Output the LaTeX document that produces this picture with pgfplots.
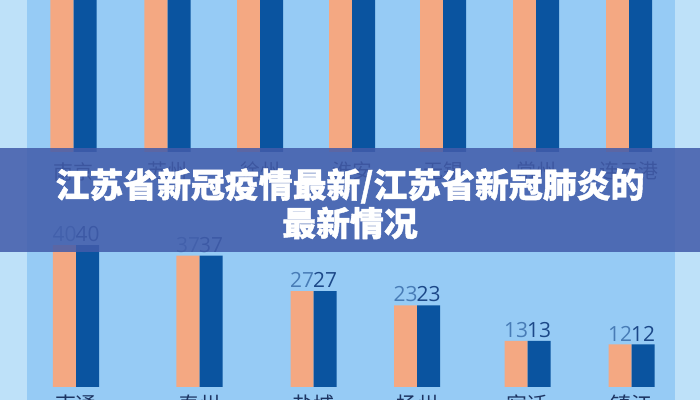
\documentclass[border=0pt]{standalone}
\usepackage{pgfplots}
\pgfplotsset{compat=1.18}
\usepackage{fontspec}
\newfontfamily\cjk{Noto Sans CJK SC}[BoldFeatures={FakeBold=1.2}]
\newfontfamily\numfont{Open Sans}
\definecolor{bgout}{RGB}{190,225,249}
\definecolor{bgin}{RGB}{150,203,245}
\definecolor{barorange}{RGB}{244,168,130}
\definecolor{barblue}{RGB}{10,84,160}
\definecolor{lblorange}{RGB}{72,124,182}
\definecolor{lblblue}{RGB}{28,72,136}
\definecolor{catlbl}{RGB}{28,52,98}
\definecolor{banner}{RGB}{66,92,170}

\begin{document}
\begin{tikzpicture}
\useasboundingbox (0bp,0bp) rectangle (700bp,400bp);
\clip (0bp,0bp) rectangle (700bp,400bp);
\fill[bgout] (0bp,0bp) rectangle (700bp,400bp);
\fill[bgin] (27bp,0bp) rectangle (675bp,400bp);

% upper chart (cut off by the frame and the banner)
\begin{axis}[
  at={(0bp,248bp)}, anchor=south west,
  scale only axis, width=700bp, height=160bp,
  xmin=0, xmax=700, ymin=0, ymax=45,
  axis line style={draw=none}, major tick length=0pt,
  ytick=\empty,
  xtick={73.5,167.5,260,352,443,536,629},
  xticklabels={南京,苏州,徐州,淮安,无锡,常州,连云港},
  xticklabel style={font=\cjk\fontsize{20}{20}\selectfont, text=catlbl, inner sep=0pt, anchor=north, yshift=-10bp},
  ybar=0pt, bar width=23bp,
]
\addplot[fill=barorange, draw=none] coordinates {(73.5,93) (167.5,80) (260,79) (352,66) (443,61) (536,48) (629,46)};
\addplot[fill=barblue, draw=none] coordinates {(73.5,93) (167.5,80) (260,79) (352,66) (443,61) (536,48) (629,46)};
\end{axis}

% lower chart
\begin{axis}[
  at={(0bp,13bp)}, anchor=south west,
  scale only axis, width=700bp, height=142bp,
  xmin=0, xmax=700, ymin=0, ymax=40, clip=false,
  axis line style={draw=none}, major tick length=0pt,
  ytick=\empty,
  xtick={76,199.5,313.5,417,527.5,631.5},
  xticklabels={南通,泰州,盐城,扬州,宿迁,镇江},
  xticklabel style={font=\cjk\fontsize{21}{21}\selectfont, text=catlbl, inner sep=0pt, anchor=north, yshift=-8bp},
  ybar=0pt, bar width=23bp,
  nodes near coords,
  /pgf/number format/assume math mode=true,
  every node near coord/.append style={font=\numfont\fontsize{21}{21}\selectfont, inner sep=0pt, anchor=south, yshift=3bp},
]
\addplot[fill=barorange, draw=none, every node near coord/.append style={text=lblorange}] coordinates {(76,40) (199.5,37) (313.5,27) (417,23) (527.5,13) (631.5,12)};
\addplot[fill=barblue, draw=none, every node near coord/.append style={text=lblblue}] coordinates {(76,40) (199.5,37) (313.5,27) (417,23) (527.5,13) (631.5,12)};
\end{axis}

% title banner
\fill[banner, fill opacity=0.86] (0bp,148bp) rectangle (700bp,252bp);
\node[text=white, font=\cjk\bfseries\fontsize{34}{34}\selectfont, inner sep=0pt] at (350bp,214bp) {江苏省新冠疫情最新/江苏省新冠肺炎的};
\node[text=white, font=\cjk\bfseries\fontsize{34}{34}\selectfont, inner sep=0pt] at (350bp,177bp) {最新情况};
\end{tikzpicture}
\end{document}
